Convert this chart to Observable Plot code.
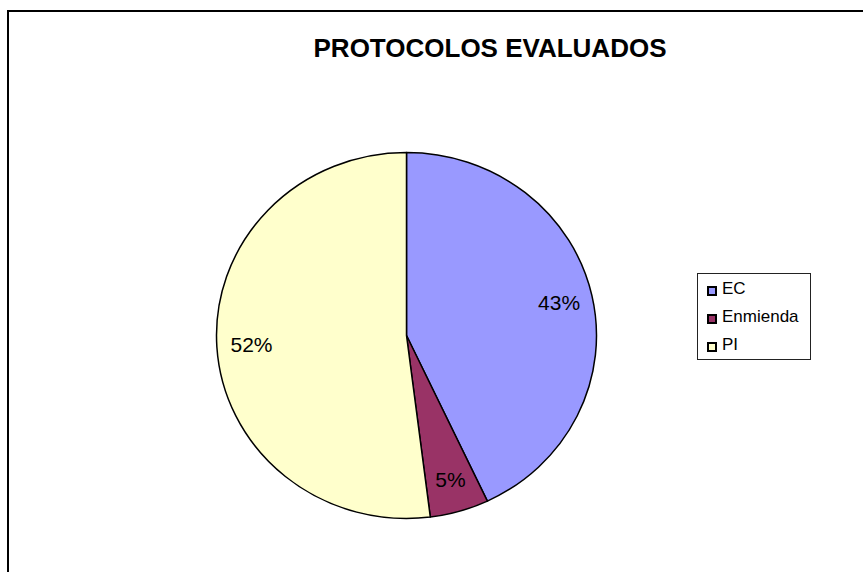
<!DOCTYPE html>
<html><head><meta charset="utf-8">
<script src="https://cdn.jsdelivr.net/npm/d3@7"></script>
<script src="https://cdn.jsdelivr.net/npm/@observablehq/plot@0.6"></script>
<style>
body{margin:0;background:#fff;font-family:"Liberation Sans",Arial,sans-serif}
#wrap{position:relative;width:863px;height:572px;overflow:hidden;background:#fff}
#frame{position:absolute;left:7px;top:10px;width:900px;height:600px;border-left:2px solid #000;border-top:2px solid #000}
#title{position:absolute;left:290px;top:35px;width:400px;text-align:center;font-weight:bold;font-size:26px;line-height:26px;color:#000}
#chart{position:absolute;left:0;top:0}
#legend{position:absolute;left:697px;top:273px;width:112px;height:85px;border:1px solid #222;background:#fff}
.row{position:absolute;left:0;height:28px;line-height:28px;font-size:17px;color:#000;white-space:nowrap}
.sw{position:absolute;left:9px;top:10px;width:6px;height:6px;border:2px solid #000}
.lab{position:absolute;left:24px;top:-1px}
</style>
</head><body>
<div id="wrap">
  <div id="frame"></div>
  <div id="chart"></div>
  <div id="title">PROTOCOLOS EVALUADOS</div>
  <div id="legend"></div>
</div>
<script>
const title = "PROTOCOLOS EVALUADOS";
const categories = ["EC", "Enmienda", "PI"];
const values = [43, 5, 52];
const labels = ["43%", "5%", "52%"];
const colors = ["#9999FF", "#993366", "#FFFFCC"];

const W = 863, H = 572;
const cx = 406.5, cy = 335.5, rx = 190, ry = 183;

const color = Plot.scale({color: {type: "ordinal", domain: categories, range: colors}});
const data = categories.map((c, i) => ({category: c, value: values[i], label: labels[i]}));
const arcs = d3.pie().sort(null).value(d => d.value)(data);
const slices = arcs.map(a => {
  const mid = (a.startAngle + a.endAngle) / 2;
  const f = 0.82;
  return {...a.data, startAngle: a.startAngle, endAngle: a.endAngle,
    lx: cx + f * rx * Math.sin(mid), ly: cy - f * ry * Math.cos(mid)};
});

const arcGen = d3.arc().innerRadius(0).outerRadius(rx);

const pieMark = (index, scales) => {
  const g = d3.create("svg:g")
    .attr("transform", `translate(${scales.x(cx)},${scales.y(cy)}) scale(1,${ry / rx})`);
  g.selectAll("path").data(slices).join("path")
    .attr("d", d => arcGen(d))
    .attr("fill", d => color.apply(d.category))
    .attr("stroke", "#000")
    .attr("stroke-width", 1.5)
    .attr("stroke-linejoin", "round")
    .attr("vector-effect", "non-scaling-stroke");
  return g.node();
};

const svg = Plot.plot({
  width: W, height: H, margin: 0,
  style: {background: "transparent", overflow: "visible"},
  x: {domain: [0, W], range: [0, W], axis: null},
  y: {domain: [0, H], range: [0, H], axis: null},
  marks: [
    pieMark,
    Plot.text(slices, {x: "lx", y: "ly", text: "label", fontSize: 21,
      fontFamily: "Liberation Sans, Arial, sans-serif", fill: "#000", textAnchor: "middle", lineAnchor: "middle"})
  ]
});
document.getElementById("chart").appendChild(svg);

const legend = d3.select("#legend");
categories.forEach((c, i) => {
  const row = legend.append("div").attr("class", "row").style("top", (2 + i * 28) + "px");
  row.append("div").attr("class", "sw").style("background", color.apply(c));
  row.append("div").attr("class", "lab").text(c);
});
</script>
</body></html>
